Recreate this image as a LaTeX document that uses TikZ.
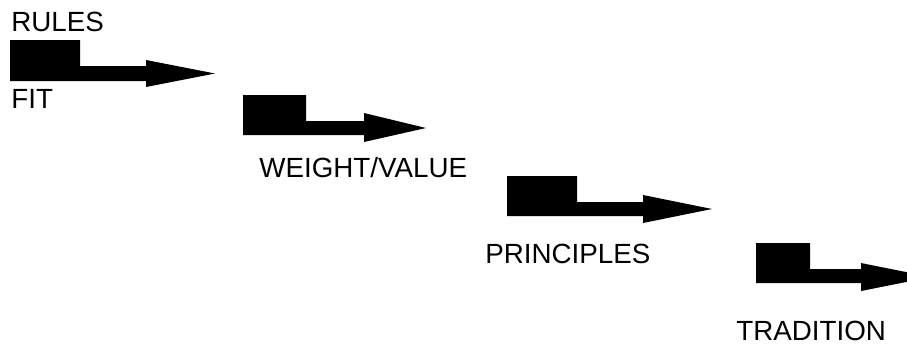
\documentclass[tikz,border=0pt]{standalone}
\usepackage{fontspec}
\setmainfont{Liberation Sans}
\usetikzlibrary{positioning}

\tikzset{
    steparrow/.style={fill=black},
    steplabel/.style={anchor=base west, inner sep=0pt, font=\fontsize{15.8pt}{19pt}\selectfont}
}

\begin{document}
\begin{tikzpicture}[x=0.02cm, y=-0.02cm]
    \useasboundingbox (0,0) rectangle (907,345);

    % Steps
    \fill[steparrow] (10,40) -- (80,40) -- (80,66) -- (146,66) -- (146,60) -- (215,73.5)
        -- (146,87) -- (146,81) -- (10,81) -- cycle;
    \fill[steparrow] (243,95) -- (306,95) -- (306,121) -- (364,121) -- (364,113) -- (426,128)
        -- (364,142) -- (364,135) -- (243,135) -- cycle;
    \fill[steparrow] (507,176) -- (577,176) -- (577,202) -- (643,202) -- (643,195) -- (712,209)
        -- (643,223) -- (643,216) -- (507,216) -- cycle;
    \fill[steparrow] (756,243) -- (810,243) -- (810,269) -- (861,269) -- (861,263) -- (931,277)
        -- (861,291) -- (861,283) -- (756,283) -- cycle;

    % Labels
    \node[steplabel] (rules) at (11,31) {RULES};
    \node[steplabel] (fit) at (11,108) {FIT};
    \node[steplabel] (weight) at (259,177) {WEIGHT/VALUE};
    \node[steplabel] (principles) at (485,263) {PRINCIPLES};
    \node[steplabel] (tradition) at (736,340.5) {TRADITION};
\end{tikzpicture}
\end{document}
